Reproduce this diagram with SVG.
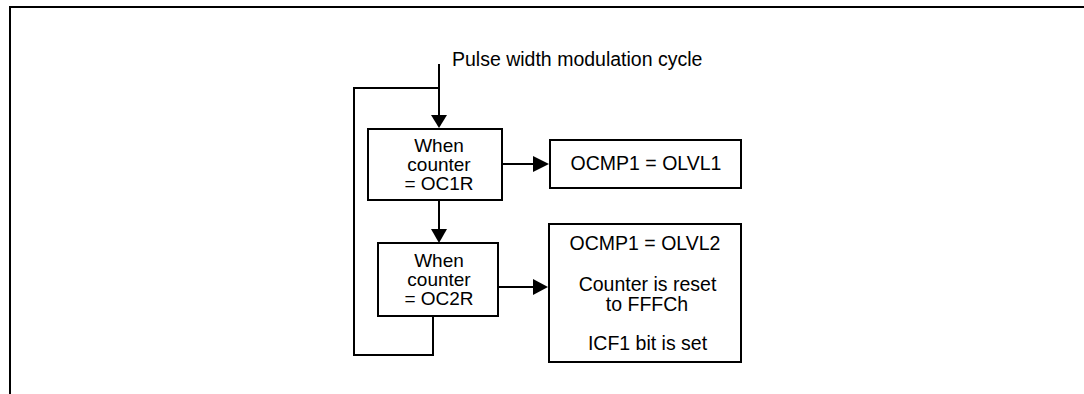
<svg xmlns="http://www.w3.org/2000/svg" width="1084" height="394" viewBox="0 0 1084 394">
<style>
.box{fill:#fff;stroke:#000;stroke-width:2}
.ln{fill:none;stroke:#000;stroke-width:2}
.ah{fill:#000;stroke:none}
text{font-family:"Liberation Sans",Arial,sans-serif;font-size:19.5px;fill:#000}
.c{text-anchor:middle}
.s{font-size:19px}
</style>
<rect width="1084" height="394" fill="#fff"/>
<path class="ln" d="M10,394 V7 H1084"/>
<text x="452" y="66">Pulse width modulation cycle</text>
<g id="connectors">
<path class="ln" d="M439,64 V116"/>
<path class="ln" d="M354,88 H439"/>
<path class="ah" d="M431,115 H447 L439,128 Z"/>
<path class="ln" d="M439,200 V230"/>
<path class="ah" d="M431,229 H447 L439,243 Z"/>
<path class="ln" d="M502,164 H535"/>
<path class="ah" d="M533,156 V172 L549,164 Z"/>
<path class="ln" d="M498,287 H535"/>
<path class="ah" d="M533,279 V295 L548,287 Z"/>
<path class="ln" d="M433,316 V355 H354 V87"/>
</g>
<g id="cmp1">
<rect class="box" x="368" y="129" width="134" height="71"/>
<text class="c s" x="439" y="152">When</text>
<text class="c s" x="439" y="171">counter</text>
<text class="c s" x="439" y="190">= OC1R</text>
</g>
<g id="out1">
<rect class="box" x="550" y="140" width="191" height="48"/>
<text class="c" x="646" y="170">OCMP1 = OLVL1</text>
</g>
<g id="cmp2">
<rect class="box" x="378" y="243" width="120" height="73"/>
<text class="c s" x="439" y="267">When</text>
<text class="c s" x="439" y="286">counter</text>
<text class="c s" x="439" y="305">= OC2R</text>
</g>
<g id="out2">
<rect class="box" x="549" y="224" width="192" height="138"/>
<text class="c" x="645" y="250">OCMP1 = OLVL2</text>
<text class="c" x="647.5" y="291">Counter is reset</text>
<text class="c" x="647" y="311">to FFFCh</text>
<text class="c" x="647.5" y="350">ICF1 bit is set</text>
</g>
</svg>
